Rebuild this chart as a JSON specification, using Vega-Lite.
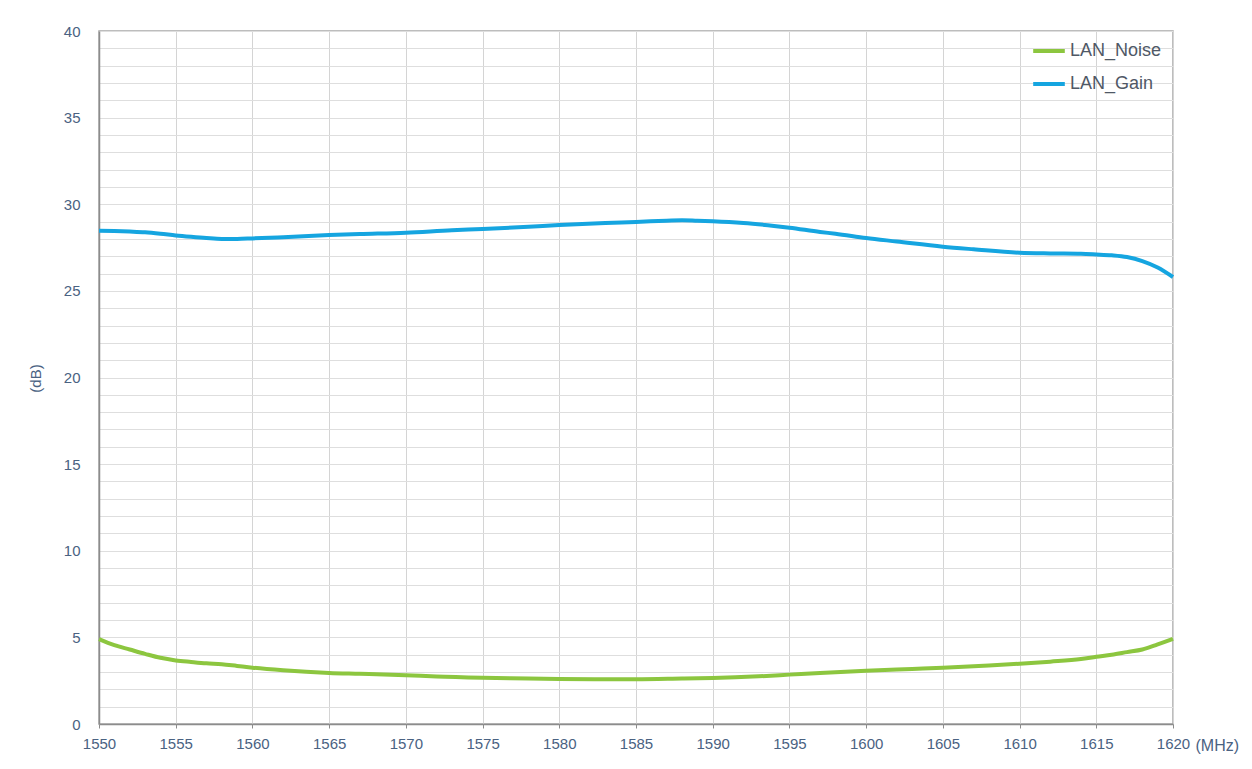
{
  "$schema": "https://vega.github.io/schema/vega-lite/v6.json",
  "width": 1074,
  "height": 693,
  "autosize": {"type": "none"},
  "padding": {"left": 99, "top": 31, "right": 79, "bottom": 45},
  "background": "white",
  "config": {
    "font": "Liberation Sans",
    "view": {"stroke": "#a8a8a8", "strokeWidth": 1.5}
  },
  "data": {
    "values": [
      {"series": "LAN_Gain", "freq": 1550, "value": 28.47},
      {"series": "LAN_Gain", "freq": 1551, "value": 28.45},
      {"series": "LAN_Gain", "freq": 1552, "value": 28.42},
      {"series": "LAN_Gain", "freq": 1553, "value": 28.38},
      {"series": "LAN_Gain", "freq": 1554, "value": 28.3},
      {"series": "LAN_Gain", "freq": 1555, "value": 28.2},
      {"series": "LAN_Gain", "freq": 1556, "value": 28.12},
      {"series": "LAN_Gain", "freq": 1557, "value": 28.05},
      {"series": "LAN_Gain", "freq": 1558, "value": 28.0},
      {"series": "LAN_Gain", "freq": 1559, "value": 28.0},
      {"series": "LAN_Gain", "freq": 1560, "value": 28.03},
      {"series": "LAN_Gain", "freq": 1562, "value": 28.1},
      {"series": "LAN_Gain", "freq": 1565, "value": 28.22},
      {"series": "LAN_Gain", "freq": 1567, "value": 28.28},
      {"series": "LAN_Gain", "freq": 1570, "value": 28.36},
      {"series": "LAN_Gain", "freq": 1573, "value": 28.5},
      {"series": "LAN_Gain", "freq": 1575, "value": 28.57},
      {"series": "LAN_Gain", "freq": 1578, "value": 28.7},
      {"series": "LAN_Gain", "freq": 1580, "value": 28.8},
      {"series": "LAN_Gain", "freq": 1583, "value": 28.92},
      {"series": "LAN_Gain", "freq": 1585, "value": 28.98},
      {"series": "LAN_Gain", "freq": 1587, "value": 29.05},
      {"series": "LAN_Gain", "freq": 1588, "value": 29.08},
      {"series": "LAN_Gain", "freq": 1589, "value": 29.05},
      {"series": "LAN_Gain", "freq": 1590, "value": 29.02},
      {"series": "LAN_Gain", "freq": 1592, "value": 28.92},
      {"series": "LAN_Gain", "freq": 1594, "value": 28.75},
      {"series": "LAN_Gain", "freq": 1595, "value": 28.65},
      {"series": "LAN_Gain", "freq": 1597, "value": 28.4},
      {"series": "LAN_Gain", "freq": 1598, "value": 28.3},
      {"series": "LAN_Gain", "freq": 1600, "value": 28.05},
      {"series": "LAN_Gain", "freq": 1602, "value": 27.85},
      {"series": "LAN_Gain", "freq": 1605, "value": 27.55},
      {"series": "LAN_Gain", "freq": 1607, "value": 27.4},
      {"series": "LAN_Gain", "freq": 1610, "value": 27.2},
      {"series": "LAN_Gain", "freq": 1612, "value": 27.16},
      {"series": "LAN_Gain", "freq": 1614, "value": 27.14},
      {"series": "LAN_Gain", "freq": 1615, "value": 27.1},
      {"series": "LAN_Gain", "freq": 1616, "value": 27.05},
      {"series": "LAN_Gain", "freq": 1617, "value": 26.95},
      {"series": "LAN_Gain", "freq": 1618, "value": 26.72},
      {"series": "LAN_Gain", "freq": 1619, "value": 26.35},
      {"series": "LAN_Gain", "freq": 1620, "value": 25.8},
      {"series": "LAN_Noise", "freq": 1550, "value": 4.9},
      {"series": "LAN_Noise", "freq": 1551, "value": 4.55},
      {"series": "LAN_Noise", "freq": 1552, "value": 4.3},
      {"series": "LAN_Noise", "freq": 1553, "value": 4.05},
      {"series": "LAN_Noise", "freq": 1554, "value": 3.82},
      {"series": "LAN_Noise", "freq": 1555, "value": 3.67},
      {"series": "LAN_Noise", "freq": 1556, "value": 3.58},
      {"series": "LAN_Noise", "freq": 1557, "value": 3.5},
      {"series": "LAN_Noise", "freq": 1558, "value": 3.45},
      {"series": "LAN_Noise", "freq": 1559, "value": 3.35},
      {"series": "LAN_Noise", "freq": 1560, "value": 3.25},
      {"series": "LAN_Noise", "freq": 1562, "value": 3.1},
      {"series": "LAN_Noise", "freq": 1565, "value": 2.95},
      {"series": "LAN_Noise", "freq": 1567, "value": 2.9},
      {"series": "LAN_Noise", "freq": 1570, "value": 2.82},
      {"series": "LAN_Noise", "freq": 1572, "value": 2.74},
      {"series": "LAN_Noise", "freq": 1575, "value": 2.67},
      {"series": "LAN_Noise", "freq": 1578, "value": 2.63},
      {"series": "LAN_Noise", "freq": 1580, "value": 2.6},
      {"series": "LAN_Noise", "freq": 1583, "value": 2.58},
      {"series": "LAN_Noise", "freq": 1585, "value": 2.58},
      {"series": "LAN_Noise", "freq": 1588, "value": 2.62},
      {"series": "LAN_Noise", "freq": 1590, "value": 2.65},
      {"series": "LAN_Noise", "freq": 1593, "value": 2.75},
      {"series": "LAN_Noise", "freq": 1595, "value": 2.85},
      {"series": "LAN_Noise", "freq": 1597, "value": 2.95},
      {"series": "LAN_Noise", "freq": 1600, "value": 3.08},
      {"series": "LAN_Noise", "freq": 1603, "value": 3.18},
      {"series": "LAN_Noise", "freq": 1605, "value": 3.25},
      {"series": "LAN_Noise", "freq": 1608, "value": 3.38},
      {"series": "LAN_Noise", "freq": 1610, "value": 3.48},
      {"series": "LAN_Noise", "freq": 1612, "value": 3.6},
      {"series": "LAN_Noise", "freq": 1614, "value": 3.75},
      {"series": "LAN_Noise", "freq": 1615, "value": 3.88},
      {"series": "LAN_Noise", "freq": 1616, "value": 4.0},
      {"series": "LAN_Noise", "freq": 1617, "value": 4.15},
      {"series": "LAN_Noise", "freq": 1618, "value": 4.3},
      {"series": "LAN_Noise", "freq": 1619, "value": 4.6},
      {"series": "LAN_Noise", "freq": 1620, "value": 4.92}
    ]
  },
  "mark": {"type": "line", "strokeWidth": 4, "interpolate": "monotone"},
  "encoding": {
    "x": {
      "field": "freq",
      "type": "quantitative",
      "scale": {"domain": [1550, 1620], "nice": false, "zero": false},
      "axis": {
        "values": [1550, 1555, 1560, 1565, 1570, 1575, 1580, 1585, 1590, 1595, 1600, 1605, 1610, 1615, 1620],
        "format": "d",
        "grid": true,
        "gridColor": "#d4d4d4",
        "gridWidth": 1,
        "domainColor": "#8c8c8c",
        "domainWidth": 1.5,
        "ticks": true,
        "tickColor": "#8c8c8c",
        "tickSize": 4,
        "labelFlush": false,
        "labelFontSize": 15,
        "labelColor": "#4a6282",
        "labelPadding": 8,
        "title": "(MHz)",
        "titleFontSize": 16,
        "titleFontWeight": "normal",
        "titleColor": "#4a6282",
        "titleAlign": "left",
        "titleBaseline": "middle",
        "titleX": 1096,
        "titleY": 21
      }
    },
    "y": {
      "field": "value",
      "type": "quantitative",
      "scale": {"domain": [0, 40], "nice": false},
      "axis": {
        "values": [0,1,2,3,4,5,6,7,8,9,10,11,12,13,14,15,16,17,18,19,20,21,22,23,24,25,26,27,28,29,30,31,32,33,34,35,36,37,38,39,40],
        "labelExpr": "datum.value % 5 === 0 ? datum.label : ''",
        "grid": true,
        "gridColor": "#dedede",
        "gridWidth": 1,
        "domainColor": "#8c8c8c",
        "domainWidth": 1.5,
        "ticks": false,
        "labelFontSize": 15,
        "labelColor": "#4a6282",
        "labelPadding": 19,
        "title": "(dB)",
        "titleFontSize": 15,
        "titleFontWeight": "normal",
        "titleColor": "#4a6282",
        "titleX": -64,
        "titleY": 347,
        "titleAlign": "center",
        "titleBaseline": "middle"
      }
    },
    "color": {
      "field": "series",
      "type": "nominal",
      "scale": {"domain": ["LAN_Noise", "LAN_Gain"], "range": ["#8cc63f", "#15a5e0"]},
      "legend": {
        "title": null,
        "orient": "none",
        "legendX": 932,
        "legendY": 2,
        "symbolType": "stroke",
        "symbolSize": 1000,
        "symbolStrokeWidth": 4,
        "labelFontSize": 18,
        "labelColor": "#4f5866",
        "labelOffset": 3,
        "rowPadding": 6
      }
    }
  }
}
